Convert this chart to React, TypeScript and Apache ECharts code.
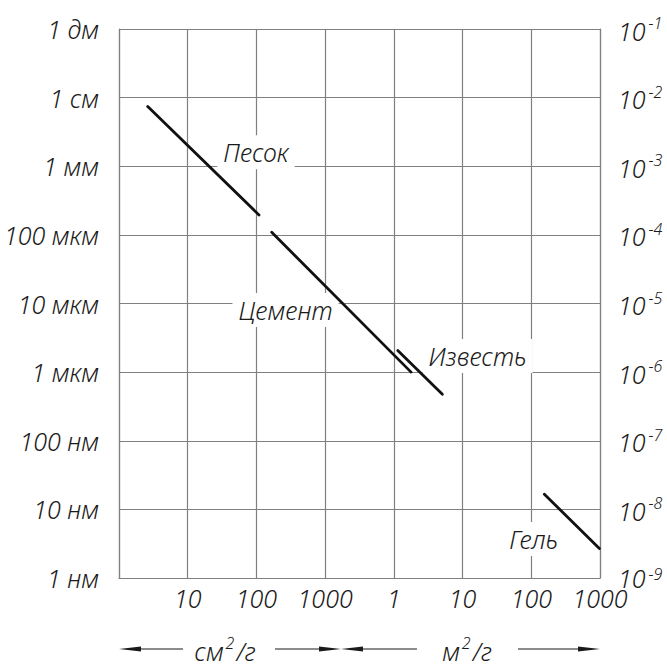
import React, { useEffect, useRef } from "react";
import * as echarts from "echarts";

// ---- data (specific surface in cm²/g, particle size in nm) ----
const xTickLabels = ["", "10", "100", "1000", "1", "10", "100", "1000"]; // index = log10(cm²/g)
const yLeftLabels = ["1 нм", "10 нм", "100 нм", "1 мкм", "10 мкм", "100 мкм", "1 мм", "1 см", "1 дм"]; // index = log10(nm)
const yRightExponents = ["-9", "-8", "-7", "-6", "-5", "-4", "-3", "-2", "-1"]; // metres

const sand = [[2.62, 7.4e6], [109, 1.95e5]];
const cement = [[167, 1.09e5], [17800, 1000]];
const lime = [[11400, 2060], [50800, 476]];
const gel = [[1.55e6, 16.6], [9.8e6, 2.7]];

const labelNames = ["Песок", "Цемент", "Известь", "Гель"];
const labelAnchors = [[98.6, 1.6e6], [265, 8070], [165000, 1722], [1.08e6, 3.7]];

const FONT = "'Noto Sans', 'DejaVu Sans Condensed', sans-serif";
const FW = 300;
const FS = 25;
const GRID_COLOR = "#808080";
const INK = "#1a1a1a";

export default function App() {
  const ref = useRef<HTMLDivElement>(null);
  useEffect(() => {
    if (!ref.current) return;
    const chart = echarts.init(ref.current, undefined, { renderer: "svg" });
    const W = 667, H = 666;
    const gl = 119, gr = 600, gt = 29, gb = 578;
    const arrowY = 649;
    const lineStyle = { stroke: INK, lineWidth: 1.2 };
    const head = (tip: number, dir: number) => ({
      type: "polygon",
      shape: { points: [[tip, arrowY], [tip - dir * 22, arrowY - 2.6], [tip - dir * 22, arrowY + 2.6]] },
      style: { fill: INK },
    });
    const txt = { fontFamily: FONT, fontStyle: "italic", fontWeight: FW, color: INK };
    const unitText = (cx: number, main: string, after: string) => ({
      type: "text",
      x: cx,
      y: arrowY,
      style: {
        text: `{n|${main}}{s|2}{n|${after}}`,
        align: "center",
        verticalAlign: "middle",
        rich: {
          n: { fontFamily: FONT, fontStyle: "italic", fontWeight: FW, fontSize: FS, fill: INK, lineHeight: 28, verticalAlign: "bottom" },
          s: { fontFamily: FONT, fontStyle: "italic", fontWeight: FW, fontSize: 16, fill: INK, lineHeight: 28, verticalAlign: "top", padding: [0, 2, 0, 2] },
        },
      },
    });
    const commonAxisLine = { show: true, lineStyle: { color: GRID_COLOR, width: 1.2 } };
    const lineSeries = (name: string, data: number[][]) => ({
      type: "line",
      name,
      data,
      symbol: "none",
      z: 5,
      lineStyle: { color: "#111", width: 2.8, cap: "round" },
    });
    chart.setOption({
      animation: false,
      backgroundColor: "#fff",
      grid: { left: gl, right: W - gr, top: gt, bottom: H - gb, containLabel: false, outerBoundsMode: "none" },
      xAxis: {
        type: "log",
        logBase: 10,
        min: 1,
        max: 1e7,
        axisLine: commonAxisLine,
        axisTick: { show: false },
        splitLine: { show: true, lineStyle: { color: GRID_COLOR, width: 1.2 } },
        axisLabel: {
          ...txt,
          margin: 9,
          fontSize: FS,
          lineHeight: 22,
          showMinLabel: true,
          showMaxLabel: true,
          hideOverlap: false,
          formatter: (v: number) => xTickLabels[Math.round(Math.log10(v))] ?? "",
        },
      },
      yAxis: [
        {
          type: "log",
          logBase: 10,
          min: 1,
          max: 1e8,
          axisLine: commonAxisLine,
          axisTick: { show: false },
          splitLine: { show: true, lineStyle: { color: GRID_COLOR, width: 1.2 } },
          axisLabel: {
            ...txt,
            margin: 20,
            fontSize: FS,
            showMinLabel: true,
            showMaxLabel: true,
            formatter: (v: number) => yLeftLabels[Math.round(Math.log10(v))] ?? "",
          },
        },
        {
          type: "log",
          logBase: 10,
          min: 1,
          max: 1e8,
          position: "right",
          axisLine: commonAxisLine,
          axisTick: { show: false },
          splitLine: { show: false },
          axisLabel: {
            margin: 18,
            showMinLabel: true,
            showMaxLabel: true,
            formatter: (v: number) => {
              const i = Math.round(Math.log10(v));
              return i === 0
                ? `{b0|10}{s0|${yRightExponents[i]}}`
                : `{b|10}{s|${yRightExponents[i]}}`;
            },
            rich: {
              b: { ...txt, fontSize: FS, lineHeight: 25, verticalAlign: "bottom", padding: [19, 0, 0, 0] },
              s: { ...txt, fontSize: 16, lineHeight: 28, verticalAlign: "top", padding: [0, 0, 0, 3] },
              b0: { ...txt, fontSize: FS, lineHeight: 25, verticalAlign: "middle" },
              s0: { ...txt, fontSize: 16, lineHeight: 20, verticalAlign: "top", padding: [0, 0, 27, 3] },
            },
          },
        },
      ],
      series: [
        lineSeries("Песок", sand),
        lineSeries("Цемент", cement),
        lineSeries("Известь", lime),
        lineSeries("Гель", gel),
        {
          type: "scatter",
          name: "labels",
          z: 3,
          symbolSize: 1,
          itemStyle: { color: "rgba(0,0,0,0)" },
          data: labelAnchors.map((p, i) => ({ value: p, name: labelNames[i] })),
          label: {
            show: true,
            position: "inside",
            formatter: (p: any) => p.name,
            ...txt,
            fontSize: FS,
            opacity: 1,
            textBorderWidth: 0,
            backgroundColor: "#fff",
            padding: [5, 6, 5, 6],
            lineHeight: 24,
          },
        },
      ],
      graphic: [
        { type: "line", shape: { x1: 140, y1: arrowY, x2: 183, y2: arrowY }, style: lineStyle },
        head(119, -1),
        unitText(225, "см", "/г"),
        { type: "line", shape: { x1: 275, y1: arrowY, x2: 320, y2: arrowY }, style: lineStyle },
        head(341, 1),
        head(341, -1),
        { type: "line", shape: { x1: 362, y1: arrowY, x2: 417, y2: arrowY }, style: lineStyle },
        unitText(467, "м", "/г"),
        { type: "line", shape: { x1: 518, y1: arrowY, x2: 580, y2: arrowY }, style: lineStyle },
        head(600, 1),
      ],
    });
    return () => chart.dispose();
  }, []);
  return <div ref={ref} style={{ position: "fixed", left: 0, top: 0, width: 667, height: 666 }} />;
}
